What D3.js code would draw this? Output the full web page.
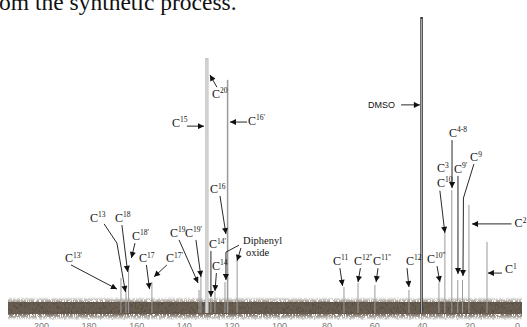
<!DOCTYPE html>
<html><head><meta charset="utf-8">
<script src="https://cdn.jsdelivr.net/npm/d3@7/dist/d3.min.js"></script>
<style>html,body{margin:0;padding:0;background:#fff;overflow:hidden}svg{display:block}</style>
</head><body>
<script>
// ---- data (ppm, relative intensity) ----
const peakPpm    = [166.4,164.3,163.2,153.4,133.6,132.8,130.3,128.6,126.9,122.7,121.6,117.6,72.7,66.8,59.7,45.4,40.1,32.8,30.3,27.4,24.9,22.9,20.2,12.6];
const peakHeight = [10.3,6.2,13.7,8.9,6.2,11.3,85.9,3.4,5.5,8.9,78.4,17.2,7.2,8.6,7.9,6.2,100,8.9,25.8,40.5,9.6,9.6,35.4,22.7];
const tickValues = [200,180,160,140,120,100,80,60,40,20,0];
const headerText = "om the synthetic process.";
// annotation labels: base, superscript, label anchor (ppm, intensity), arrow path (ppm, intensity)
const annotations = [
  {b:"C",s:"13'",  at:[189.9,15.8], path:[[187.4,14.8],[168.1,6.5]]},
  {b:"C",s:"13",   at:[179.4,29.6], path:[[173.5,28.9],[168.1,22.3],[164.5,5.5]]},
  {b:"C",s:"18",   at:[168.9,29.6], path:[[166.0,28.5],[163.6,12.4]]},
  {b:"C",s:"18'",  at:[161.8,23.4], path:[[160.5,22.3],[162.0,17.2]]},
  {b:"C",s:"17",   at:[158.8,15.8], path:[[155.7,14.8],[154.4,6.5]]},
  {b:"C",s:"17'",  at:[147.5,15.8], path:[[147.1,14.8],[152.5,10.7]]},
  {b:"C",s:"19",   at:[145.8,24.4], path:[[142.0,23.4],[134.0,8.6]]},
  {b:"C",s:"19'",  at:[139.5,24.4], path:[[134.9,23.4],[132.8,10.7]]},
  {b:"C",s:"14'",  at:[129.4,20.6], path:[[128.6,19.6],[128.6,3.8]]},
  {b:"C",s:"14",   at:[128.2,13.1], path:[[126.3,12.0],[126.9,5.8]]},
  {b:"C",s:"16",   at:[129.0,39.5], path:[[124.8,38.5],[122.3,25.4]]},
  {b:"C",s:"15",   at:[145.0,62.2], path:[[138.7,62.5],[131.5,62.5]]},
  {b:"C",s:"20",   at:[128.2,72.2], path:[[126.1,75.9],[129.0,80.1]]},
  {b:"C",s:"16'",  at:[113.0,62.9], path:[[113.4,63.9],[120.6,63.9]]},
  {b:"C",s:"11",   at:[77.3,14.8],  path:[[74.4,13.7],[73.3,7.6]]},
  {b:"C",s:"12''", at:[68.5,14.8],  path:[[65.8,13.7],[66.8,8.9]]},
  {b:"C",s:"11''", at:[60.5,14.8],  path:[[58.4,13.7],[59.2,8.9]]},
  {b:"C",s:"12",   at:[46.6,14.8],  path:[[46.2,13.7],[45.4,7.2]]},
  {b:"C",s:"10''", at:[37.8,15.5],  path:[[33.6,14.4],[32.4,8.9]]},
  {b:"C",s:"3",    at:[33.6,46.7],  path:[]},
  {b:"C",s:"10",   at:[33.6,41.6],  path:[[32.4,40.3],[30.3,25.8]]},
  {b:"C",s:"4-8",  at:[28.6,58.8],  path:[[27.3,57.7],[27.3,41.2]]},
  {b:"C",s:"9'",   at:[26.5,46.4],  path:[[24.8,45.4],[24.8,11.7]]},
  {b:"C",s:"9",    at:[19.7,50.5],  path:[[18.1,49.5],[22.5,37.8],[22.7,11.0]]},
  {b:"C",s:"2",    at:[1.0,27.8],   path:[[2.3,28.9],[18.9,28.9]]},
  {b:"C",s:"1",    at:[5.0,12.0],   path:[[6.3,12.0],[12.2,12.0]]}
];
const diphenyl = {lines:["Diphenyl","oxide"], at:[[115.1,22.0],[113.9,17.9]],
  paths:[[[116.0,20.6],[117.6,16.2]], [[116.8,21.6],[122.3,19.2],[122.3,9.6]]]};
const dmso = {text:"DMSO", at:[51.3,68.7], path:[[48.7,69.8],[40.8,69.8]]};

// ---- drawing ----
const W = 527, H = 327;
const svg = d3.select("body").append("svg").attr("width", W).attr("height", H);
const x = d3.scaleLinear().domain([200, 0]).range([41, 517]);
const y = d3.scaleLinear().domain([0, 100]).range([308, 17]);

const defs = svg.append("defs");
defs.append("marker").attr("id","ah").attr("viewBox","0 0 10 10").attr("refX",10).attr("refY",5)
  .attr("markerUnits","userSpaceOnUse").attr("markerWidth",7).attr("markerHeight",6).attr("orient","auto")
  .append("path").attr("d","M0,0 L10,5 L0,10 Z").attr("fill","#111");
const f = defs.append("filter").attr("id","noiseF").attr("x",0).attr("y",0).attr("width",1).attr("height",1);
f.append("feTurbulence").attr("type","fractalNoise").attr("baseFrequency","1.4 0.3").attr("numOctaves",3).attr("seed",11).attr("result","t");
f.append("feColorMatrix").attr("in","t").attr("type","matrix")
  .attr("values","0 0 0 0 0.14  0 0 0 0 0.11  0 0 0 0 0.08  9 0 0 0 -3.0").attr("result","n");
f.append("feComposite").attr("in","n").attr("in2","SourceGraphic").attr("operator","in");
const g = defs.append("linearGradient").attr("id","bandG").attr("x1",0).attr("y1",0).attr("x2",0).attr("y2",1);
[[0,0],[0.18,0.55],[0.36,1],[0.7,1],[0.86,0.55],[1,0]].forEach(([o,a])=>
  g.append("stop").attr("offset",o).attr("stop-color","#000").attr("stop-opacity",a));

// header text
svg.append("text").attr("x",-1).attr("y",10).attr("font-family","Liberation Serif, serif")
  .attr("font-size",23.5).attr("fill","#111").text(headerText);

// baseline noise band (texture only)
svg.append("rect").attr("x",8).attr("y",y(0)-6).attr("width",514).attr("height",12)
  .attr("fill","#32291f").attr("opacity",0.82);
svg.append("rect").attr("x",8).attr("y",y(0)-11).attr("width",514).attr("height",23)
  .attr("fill","url(#bandG)").attr("filter","url(#noiseF)");

// peaks
const maxH = d3.max(peakHeight);
const peaks = peakPpm.map((p,i)=>({p,h:peakHeight[i]}));
svg.append("g").selectAll("line").data(peaks).join("line")
  .attr("x1",d=>x(d.p)).attr("x2",d=>x(d.p))
  .attr("y1",d=>y(d.h)).attr("y2",y(0)+5)
  .attr("stroke",d=>d.h===maxH?"#3a3a3a":(d.h>80?"#c4c4c4":"#9a9a9a"))
  .attr("stroke-width",d=>d.h===maxH?2.6:(d.h>80?3.4:(d.h>70?1.5:1)));
svg.append("g").selectAll("line").data(peaks.filter(d=>d.h===maxH||d.h>80)).join("line")
  .attr("x1",d=>x(d.p)).attr("x2",d=>x(d.p))
  .attr("y1",d=>y(d.h)+2).attr("y2",y(0)+5)
  .attr("stroke",d=>d.h===maxH?"#bbb":"#e2e2e2").attr("stroke-width",0.9);

// axis
const axis = d3.axisBottom(x).tickValues(tickValues).tickSize(0).tickPadding(5);
const ax = svg.append("g").attr("transform",`translate(0,${y(0)+10})`).call(axis);
ax.select(".domain").remove();
ax.selectAll("text").attr("font-family","Liberation Sans, sans-serif").attr("font-size",9).attr("fill","#777");
svg.append("g").selectAll("line").data(d3.range(0,201,5)).join("line")
  .attr("x1",d=>x(d)).attr("x2",d=>x(d)).attr("y1",y(0)+10).attr("y2",y(0)+12)
  .attr("stroke","#aaa").attr("stroke-width",0.7);

// annotations
const line = d3.line().x(d=>x(d[0])).y(d=>y(d[1]));
const an = svg.append("g");
annotations.forEach(a=>{
  const t = an.append("text").attr("x",x(a.at[0])).attr("y",y(a.at[1]))
    .attr("font-family","Liberation Serif, serif").attr("font-size",12).attr("fill","#111");
  t.append("tspan").text(a.b);
  t.append("tspan").attr("font-size",7.5).attr("dy",-4.5).text(a.s);
  if (a.path.length) an.append("path").attr("d",line(a.path)).attr("fill","none")
    .attr("stroke","#111").attr("stroke-width",0.9).attr("marker-end","url(#ah)");
});
diphenyl.lines.forEach((s,i)=>an.append("text").attr("x",x(diphenyl.at[i][0])).attr("y",y(diphenyl.at[i][1]))
  .attr("font-family","Liberation Serif, serif").attr("font-size",10.5).attr("fill","#111").text(s));
diphenyl.paths.forEach(p=>an.append("path").attr("d",line(p)).attr("fill","none")
  .attr("stroke","#111").attr("stroke-width",0.9).attr("marker-end","url(#ah)"));
an.append("text").attr("x",x(dmso.at[0])).attr("y",y(dmso.at[1])).attr("text-anchor","end")
  .attr("font-family","Liberation Sans, sans-serif").attr("font-size",9).attr("fill","#111").text(dmso.text);
an.append("path").attr("d",line(dmso.path)).attr("fill","none")
  .attr("stroke","#111").attr("stroke-width",0.9).attr("marker-end","url(#ah)");
</script>
</body></html>
